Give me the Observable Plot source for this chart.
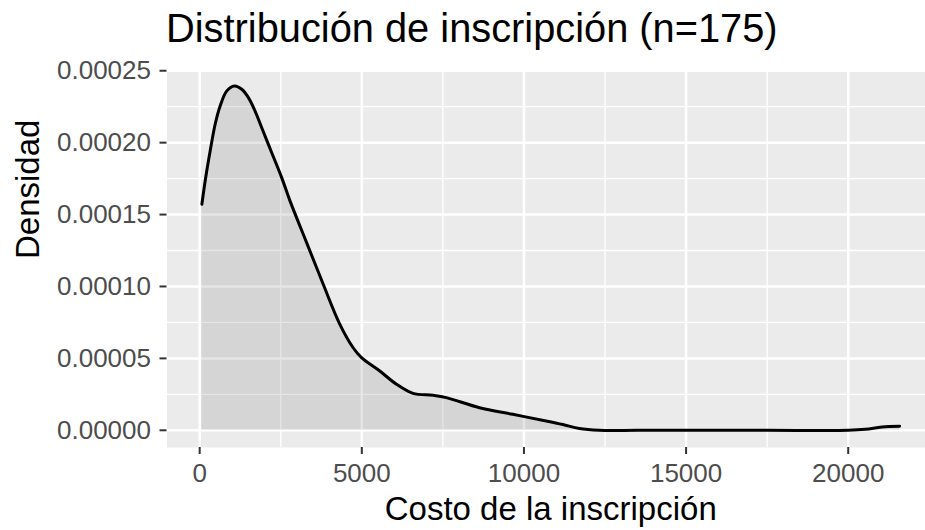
<!DOCTYPE html>
<html>
<head>
<meta charset="utf-8">
<script src="https://cdn.jsdelivr.net/npm/d3@7"></script>
<script src="https://cdn.jsdelivr.net/npm/@observablehq/plot@0.6"></script>
<style>
  html, body { margin: 0; padding: 0; background: white; overflow: hidden; }
  #wrap { width: 925px; height: 530px; overflow: hidden; position: relative; font-family: "Liberation Sans", Arial, Helvetica, sans-serif; }
  #title { position: absolute; left: 166px; top: 9px; font-size: 39.8px; line-height: 1; color: #000; white-space: nowrap; z-index: 2; }
  #chart { position: absolute; left: 0; top: 40px; }
  #chart svg { display: block; }
</style>
</head>
<body>
<div id="wrap">
  <div id="title">Distribución de inscripción (n=175)</div>
  <div id="chart"></div>
</div>
<script>
// Density curve (x = costo, y = densidad)
const costo = [68, 169, 323, 477, 631, 837, 1071, 1298, 1502, 1708, 1914, 2222, 2529, 2785, 3298, 3810, 4323, 4733, 4990, 5554, 6068, 6578, 7195, 7606, 8631, 9656, 10683, 11200, 11708, 12323, 13500, 15000, 17500, 20000, 20529, 21040, 21585];
const densidad = [0.0001572, 0.0001734, 0.0001942, 0.0002128, 0.0002255, 0.0002360, 0.0002394, 0.0002371, 0.0002313, 0.0002220, 0.0002104, 0.0001930, 0.0001757, 0.0001595, 0.0001305, 0.0001015, 0.0000737, 0.0000574, 0.0000505, 0.0000412, 0.0000320, 0.0000257, 0.0000243, 0.0000227, 0.0000157, 0.0000111, 0.0000065, 0.0000040, 0.0000012, 0.0000000, 0.0000000, 0.0000000, 0.0000000, 0.0000000, 0.0000007, 0.0000023, 0.0000028];

const xTicks = [0, 5000, 10000, 15000, 20000];
const xMinor = [2500, 7500, 12500, 17500, 22500];
const yTicks = [0, 0.00005, 0.0001, 0.00015, 0.0002, 0.00025];
const yTickLabels = ["0.00000", "0.00005", "0.00010", "0.00015", "0.00020", "0.00025"];
const yMinor = [0.000025, 0.000075, 0.000125, 0.000175, 0.000225];

const xTitle = "Costo de la inscripción";
const yTitle = "Densidad";

const data = costo.map((x, i) => ({x, y: densidad[i]}));

const xMin = d3.min(costo), xMax = d3.max(costo);
const xPad = (xMax - xMin) * 0.05;
const yMax = d3.max(densidad) * 1.045;
const yPad = d3.max(densidad) * 0.05;

const font = "'Liberation Sans', Arial, Helvetica, sans-serif";

const chart = Plot.plot({
  width: 934,
  height: 490,
  marginLeft: 166.5,
  marginRight: 0,
  marginTop: 30,
  marginBottom: 83,
  style: {fontFamily: font, maxWidth: "none", background: "transparent", overflow: "hidden"},
  x: {domain: [xMin - xPad, xMax + xPad]},
  y: {domain: [-yPad, yMax]},
  marks: [
    Plot.frame({fill: "#EBEBEB", stroke: null}),
    Plot.ruleX(xMinor, {stroke: "white", strokeWidth: 1.3}),
    Plot.ruleY(yMinor, {stroke: "white", strokeWidth: 1.3}),
    Plot.ruleX(xTicks, {stroke: "white", strokeWidth: 2.5}),
    Plot.ruleY(yTicks, {stroke: "white", strokeWidth: 2.5}),
    Plot.areaY(data, {x: "x", y: "y", fill: "#7f7f7f", fillOpacity: 0.2, curve: "catmull-rom"}),
    Plot.lineY(data, {x: "x", y: "y", stroke: "black", strokeWidth: 3, curve: "catmull-rom"}),
    Plot.axisX({ticks: xTicks, tickFormat: d => String(d), tickSize: 7, tickPadding: 9, fontSize: 26, fill: "#4D4D4D", stroke: "#333333", strokeWidth: 2, label: null}),
    Plot.axisY({ticks: yTicks, tickFormat: (d, i) => yTickLabels[i], tickSize: 7, tickPadding: 9, fontSize: 26, fill: "#4D4D4D", stroke: "#333333", strokeWidth: 2, label: null}),
    Plot.text([xTitle], {frameAnchor: "bottom", lineAnchor: "bottom", dy: 72.5, fontSize: 33, fill: "black"}),
    Plot.text([yTitle], {frameAnchor: "left", lineAnchor: "bottom", rotate: -90, dx: -128.2, fontSize: 33, fill: "black"})
  ]
});
document.getElementById("chart").appendChild(chart);
</script>
</body>
</html>
